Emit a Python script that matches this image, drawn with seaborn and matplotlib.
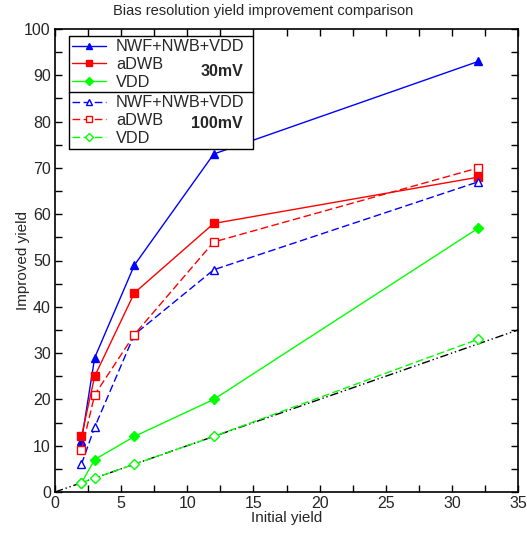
import matplotlib
matplotlib.use("Agg")
import matplotlib.pyplot as plt
import seaborn as sns
import pandas as pd
from matplotlib.lines import Line2D
from matplotlib.ticker import MultipleLocator

sns.set_theme(style="ticks")
plt.rcParams['font.family'] = ['Liberation Sans', 'DejaVu Sans']

x_vals = [2, 3, 6, 12, 32]
nwf_30 = [11, 29, 49, 73, 93]
adwb_30 = [12, 25, 43, 58, 68]
vdd_30 = [2, 7, 12, 20, 57]
nwf_100 = [6, 14, 34, 48, 67]
adwb_100 = [9, 21, 34, 54, 70]
vdd_100 = [2, 3, 6, 12, 33]
ref_x = [0, 35]
ref_y = [0, 35]

DASH = (0, (5.5, 2.5))
series = [
    ("NWF+NWB+VDD", "30mV", nwf_30, "#0000ff", "-", "^", True),
    ("aDWB", "30mV", adwb_30, "#ff0000", "-", "s", True),
    ("VDD", "30mV", vdd_30, "#00ff00", "-", "D", True),
    ("NWF+NWB+VDD", "100mV", nwf_100, "#0000ff", DASH, "^", False),
    ("aDWB", "100mV", adwb_100, "#ff0000", DASH, "s", False),
    ("VDD", "100mV", vdd_100, "#00ff00", DASH, "D", False),
]
msize = {"^": 6, "s": 5.5, "D": 5}

fig = plt.figure(figsize=(5.27, 5.33), dpi=100)
# axes: left 55px, right 518px, top 29px, bottom 492px
ax = fig.add_axes([55 / 527, (533 - 492) / 533, 463 / 527, 463 / 533])

sns.lineplot(x=ref_x, y=ref_y, ax=ax, color="black", lw=1.0,
             linestyle=(0, (6, 2, 1, 2, 1, 2)), zorder=1)

handles = []
for name, bias, vals, col, ls, mk, filled in series:
    df = pd.DataFrame({"x": x_vals, "y": vals})
    mfc = col if filled else "white"
    sns.lineplot(data=df, x="x", y="y", ax=ax, color=col, lw=1.0,
                 linestyle=ls, marker=mk, markersize=msize[mk],
                 markerfacecolor=mfc, markeredgecolor=col, markeredgewidth=1.0,
                 zorder=3)
    handles.append(Line2D([0], [0], color=col, lw=1.0, linestyle=ls, marker=mk,
                          markersize=msize[mk] * 0.8, markerfacecolor=mfc,
                          markeredgecolor=col, markeredgewidth=1.0, label=name))

ax.set_xlim(0, 35)
ax.set_ylim(0, 100)
ax.xaxis.set_major_locator(MultipleLocator(5))
ax.xaxis.set_minor_locator(MultipleLocator(2.5))
ax.yaxis.set_major_locator(MultipleLocator(10))
ax.yaxis.set_minor_locator(MultipleLocator(5))
ax.tick_params(which="both", direction="in", top=True, right=True,
               labelsize=11.5, width=1.0, length=5, color="black", pad=3)
for s in ax.spines.values():
    s.set_linewidth(1.2)
    s.set_color("black")

ax.set_xlabel("Initial yield", fontsize=11, labelpad=0)
ax.set_ylabel("Improved yield", fontsize=11, labelpad=-4)
fig.text(0.5, 1 - 11 / 533, "Bias resolution yield improvement comparison",
         ha="center", va="center", fontsize=10.5)

leg_kw = dict(frameon=True, fancybox=False, fontsize=11.7, handlelength=2.1,
              handletextpad=0.6, borderpad=0.2, labelspacing=0.17,
              borderaxespad=0, mode="expand")
leg1 = ax.legend(handles=handles[:3], loc="upper left",
                 bbox_to_anchor=(0.030, 0.985 - 0.3, 0.398, 0.3), **leg_kw)
ax.add_artist(leg1)
leg2 = ax.legend(handles=handles[3:], loc="upper left",
                 bbox_to_anchor=(0.030, 0.864 - 0.3, 0.398, 0.3), **leg_kw)
for leg in (leg1, leg2):
    fr = leg.get_frame()
    fr.set_edgecolor("black")
    fr.set_linewidth(1.0)
    fr.set_facecolor("white")
    fr.set_alpha(1)

ax.text(0.406, 0.909, "30mV", transform=ax.transAxes, ha="right", va="center",
        fontsize=11.5, fontweight="bold", zorder=10)
ax.text(0.406, 0.795, "100mV", transform=ax.transAxes, ha="right", va="center",
        fontsize=11.5, fontweight="bold", zorder=10)

fig.savefig("out.png", dpi=100)
